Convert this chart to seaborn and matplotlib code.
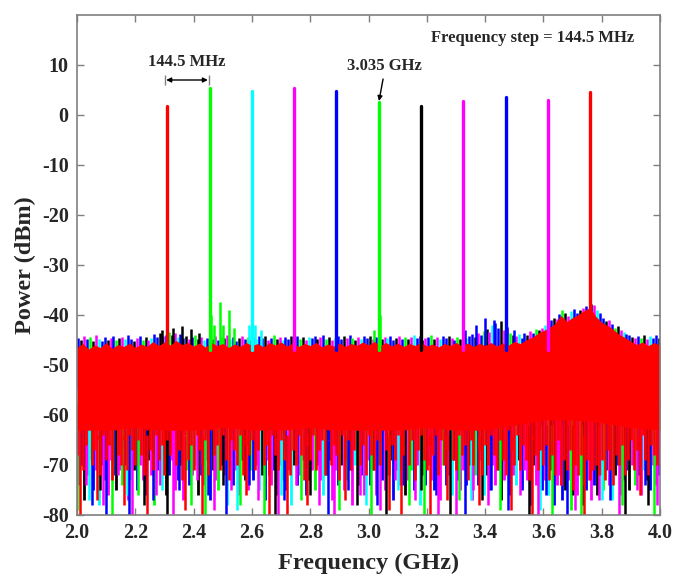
import numpy as np
import pandas as pd
import matplotlib
matplotlib.use("Agg")
import matplotlib.pyplot as plt
import seaborn as sns

# ---------------- data ----------------
peak_freq = [2.31, 2.455, 2.60, 2.745, 2.89, 3.035, 3.18, 3.325, 3.47, 3.615, 3.76]
peak_dbm = [1.8, 5.4, 4.8, 5.4, 4.8, 2.6, 1.8, 2.8, 3.6, 3.0, 4.6]
peak_color = ["#ff0000", "#00ff00", "#00ffff", "#ff00ff", "#0000ff", "#00ff00",
              "#000000", "#ff00ff", "#0000ff", "#ff00ff", "#ff0000"]

# top envelope of the red trace noise floor, 20 MHz grid 2.00..4.00 GHz
env_freq = np.linspace(2.0, 4.0, 101)
red_top = [-46.5, -45.7, -46.8, -46.0, -46.5, -45.5, -46.7, -45.9, -46.3, -45.6,
           -46.5, -45.8, -46.3, -45.3, -46.1, -45.4, -46.0, -45.1, -45.9, -45.5,
           -46.2, -45.6, -46.4, -45.5, -46.1, -45.7, -46.5, -45.8, -46.3, -45.5,
           -46.1, -45.7, -46.4, -45.5, -46.0, -45.4, -46.2, -45.6, -46.3, -45.7,
           -46.1, -45.5, -46.4, -45.8, -46.2, -45.6, -46.3, -45.7, -46.1, -45.4,
           -46.0, -45.3, -46.1, -45.5, -46.2, -45.6, -46.3, -45.7, -46.1, -45.5,
           -46.2, -45.8, -46.4, -45.7, -46.1, -45.5, -46.2, -45.6, -46.3, -45.7,
           -46.1, -45.5, -46.2, -45.6, -46.0, -45.3, -45.7, -45.0, -44.5, -43.7,
           -43.1, -42.5, -41.7, -40.1, -41.3, -40.5, -39.9, -39.1, -38.5, -40.3,
           -41.5, -42.1, -42.9, -43.9, -44.5, -45.3, -45.9, -45.4, -46.1, -45.5,
           -46.1]
# bottom of the solid part of the red floor, 100 MHz grid
solid_freq = np.linspace(2.0, 4.0, 21)
red_solid_bottom = [-63, -63, -62.5, -63, -63, -62.5, -63, -63, -62.5, -63, -63,
                    -63, -62.5, -63, -63, -62, -61, -61, -61.5, -62.5, -63]

# downward tips of the red trace, 10 MHz grid 2.00..4.00 GHz
spike_freq = np.linspace(2.0, 4.0, 201)
red_low = [-68, -64, -71, -66, -63, -70, -67, -65, -72, -64, -69, -66, -73, -63, -68, -70, -65, -71, -64, -67,
           -70, -65, -68, -72, -63, -67, -71, -64, -69, -66, -72, -65, -68, -63, -70, -67, -73, -64, -69, -66,
           -71, -64, -67, -70, -65, -72, -63, -68, -66, -71, -64, -69, -73, -65, -67, -70, -64, -72, -66, -68,
           -65, -71, -67, -63, -70, -66, -72, -64, -68, -71, -65, -69, -63, -72, -67, -70, -64, -68, -73, -66,
           -69, -64, -71, -67, -65, -72, -63, -70, -66, -68, -73, -64, -69, -65, -71, -67, -63, -70, -66, -72,
           -64, -68, -71, -65, -70, -63, -67, -72, -66, -69, -64, -71, -68, -63, -70, -65, -73, -67, -64, -69,
           -71, -66, -68, -64, -72, -65, -70, -67, -63, -69, -71, -64, -68, -66, -73, -65, -70, -63, -67, -72,
           -66, -70, -64, -68, -71, -65, -69, -72, -63, -67, -70, -64, -71, -66, -69, -73, -65, -68, -71, -67,
           -70, -66, -73, -68, -72, -65, -74, -69, -71, -67, -75, -70, -72, -68, -74, -69, -73, -71, -70, -72,
           -69, -73, -67, -71, -74, -68, -70, -66, -72, -69, -65, -71, -67, -70, -64, -69, -72, -66, -68, -70,
           -67]

# the other ten traces between the red samples (2.005..3.995 GHz, 10 MHz step)
mid_freq = np.linspace(2.005, 3.995, 200)
others_low = [-74, -70, -77, -72, -69, -75, -71, -78, -70, -73, -76, -69, -72, -75, -71, -74, -70, -77, -73, -71,
              -75, -70, -73, -76, -69, -72, -78, -71, -74, -70, -76, -72, -69, -75, -73, -70, -77, -71, -74, -72,
              -70, -76, -72, -74, -69, -77, -71, -73, -75, -70, -72, -78, -70, -74, -71, -76, -69, -73, -75, -71,
              -73, -70, -75, -72, -77, -69, -74, -71, -76, -70, -73, -75, -71, -78, -70, -74, -72, -69, -76, -73,
              -71, -75, -70, -73, -76, -72, -69, -77, -71, -74, -70, -75, -73, -71, -78, -70, -74, -72, -76, -69,
              -74, -71, -76, -70, -73, -75, -72, -69, -77, -71, -74, -70, -76, -73, -71, -75, -70, -78, -72, -74,
              -70, -73, -75, -71, -77, -70, -74, -72, -76, -69, -73, -75, -71, -74, -70, -77, -72, -74, -69, -76,
              -72, -75, -70, -74, -71, -77, -73, -70, -76, -72, -74, -69, -75, -71, -73, -78, -70, -74, -72, -75,
              -73, -76, -71, -78, -74, -72, -77, -75, -73, -79, -74, -76, -72, -78, -75, -73, -77, -74, -76, -72,
              -75, -71, -74, -77, -72, -70, -76, -73, -71, -75, -70, -74, -72, -76, -71, -73, -75, -70, -74, -72]
others_high = [-44.6, -45.0, -44.2, -44.8, -44.4, -45.2, -44.0, -44.7, -45.1, -44.3, -44.9, -44.5, -44.1, -45.0, -44.6, -44.3, -44.8, -44.0, -44.7, -45.2,
               -44.5, -44.1, -44.9, -44.3, -45.0, -44.6, -43.8, -44.4, -43.5, -44.2, -43.9, -43.4, -44.0, -43.6, -44.3, -43.8, -44.6, -44.1, -44.8, -44.4,
               -44.0, -44.7, -44.3, -45.0, -44.5, -44.1, -44.8, -44.2, -44.9, -44.4, -44.6, -44.0, -44.7, -44.3, -45.1, -44.5, -44.2, -44.8, -44.4, -44.9,
               -44.3, -44.8, -44.1, -44.6, -44.2, -44.9, -44.5, -44.0, -44.7, -44.3, -45.0, -44.4, -44.8, -44.2, -44.6, -44.1, -44.7, -44.4, -44.9, -44.3,
               -44.6, -44.2, -44.8, -44.4, -44.0, -44.7, -44.3, -45.0, -44.5, -44.1, -44.8, -44.2, -44.6, -44.0, -44.5, -44.9, -44.3, -44.7, -44.1, -44.6,
               -44.2, -44.7, -44.4, -44.0, -44.8, -44.3, -44.6, -44.1, -44.9, -44.5, -44.2, -44.7, -44.3, -44.8, -44.4, -44.0, -44.6, -44.2, -44.9, -44.5,
               -44.4, -44.0, -44.7, -44.3, -44.8, -44.2, -44.6, -44.1, -44.5, -44.9, -44.3, -44.7, -44.0, -44.6, -44.2, -43.8, -44.4, -43.5, -44.0, -43.2,
               -42.8, -43.4, -42.0, -41.5, -42.6, -41.2, -43.0, -42.4, -43.6, -44.0, -44.2, -43.8, -44.5, -43.5, -44.0, -43.2, -43.6, -42.8, -43.0, -42.5,
               -42.0, -41.8, -41.0, -40.5, -40.8, -39.8, -39.0, -39.5, -40.2, -39.2, -38.8, -39.6, -39.0, -38.6, -38.2, -38.8, -37.8, -38.0, -39.0, -39.5,
               -40.5, -41.2, -41.0, -41.8, -42.5, -42.2, -43.0, -43.4, -43.8, -44.0, -44.3, -44.6, -44.1, -44.5, -44.0, -44.7, -44.2, -44.5, -44.0, -44.6]

# deepest downward noise spikes of each trace colour
red_spk_f = [2.01, 2.07, 2.16, 2.24, 2.37, 2.43, 2.58, 2.66, 2.72, 2.79,
             2.92, 3.07, 3.11, 3.21, 3.27, 3.38, 3.49, 3.56, 3.74, 3.93]
red_spk_db = [-80, -77, -78, -80, -79, -80, -76, -80, -80, -78,
              -77, -79, -80, -80, -77, -78, -79, -80, -80, -76]
mag_spk_f = [2.03, 2.09, 2.14, 2.19, 2.27, 2.33, 2.41, 2.47, 2.53, 2.62,
             2.69, 2.75, 2.83, 2.88, 2.97, 3.04, 3.09, 3.16, 3.24, 3.30,
             3.36, 3.41, 3.52, 3.58, 3.66, 3.71, 3.79, 3.86, 3.92, 3.99]
mag_spk_db = [-74, -78, -72, -80, -76, -80, -73, -79, -75, -77,
              -80, -74, -78, -80, -76, -79, -73, -77, -80, -80,
              -75, -78, -76, -80, -74, -79, -77, -80, -75, -78]
blu_spk_f = [2.05, 2.10, 2.18, 2.26, 2.35, 2.45, 2.51, 2.59, 2.71, 2.86,
             2.93, 3.03, 3.12, 3.23, 3.33, 3.42, 3.48, 3.61, 3.68, 3.83, 3.95]
blu_spk_db = [-78, -80, -80, -77, -75, -76, -80, -74, -77, -80,
              -75, -78, -74, -76, -80, -75, -79, -76, -80, -77, -74]
grn_spk_f = [2.00, 2.12, 2.21, 2.39, 2.44, 2.56, 2.64, 2.77, 2.90, 3.01,
             3.14, 3.19, 3.31, 3.45, 3.63, 3.73, 3.87, 3.98]
grn_spk_db = [-79, -80, -76, -78, -80, -78, -80, -77, -79, -80,
              -78, -80, -77, -79, -80, -80, -78, -80]
blk_spk_f = [2.08, 2.23, 2.31, 2.50, 2.68, 2.80, 2.96, 3.06, 3.18, 3.28,
             3.39, 3.55, 3.70, 3.88, 3.96]
blk_spk_db = [-75, -78, -80, -74, -80, -76, -78, -80, -75, -80,
              -77, -80, -76, -80, -78]
cyn_spk_f = [2.04, 2.17, 2.29, 2.55, 2.70, 2.99, 3.10, 3.35, 3.59, 3.80]
cyn_spk_db = [-77, -76, -75, -79, -76, -78, -75, -77, -79, -77]

# upward noise tips standing out above the floor
blk_up_f = [2.29, 2.33, 2.36, 2.39, 2.42]
blk_up_db = [-43.0, -42.5, -42.2, -42.8, -43.5]
blu_up_f = [3.33, 3.37, 3.40, 3.43, 3.50]
blu_up_db = [-43.0, -42.0, -40.5, -41.0, -43.0]
grn_up_f = [2.46, 2.47, 2.49, 2.50, 2.52, 2.54, 3.02, 3.04]
grn_up_db = [-40.0, -42.0, -37.3, -42.0, -39.0, -42.5, -43.0, -40.0]
cyn_up_f = [2.59, 2.61, 2.63]
cyn_up_db = [-42.0, -42.0, -43.0]

x_ticks = [2.0, 2.2, 2.4, 2.6, 2.8, 3.0, 3.2, 3.4, 3.6, 3.8, 4.0]
y_ticks = [-80, -70, -60, -50, -40, -30, -20, -10, 0, 10]

# ---------------- style ----------------
sns.set_theme(style="ticks")
plt.rcParams["font.family"] = ["Liberation Serif", "DejaVu Serif"]
plt.rcParams["font.weight"] = "bold"

fig = plt.figure(figsize=(6.76, 5.76), dpi=100)
ax = fig.add_axes([77 / 676, 1 - 515 / 576, 583 / 676, 500 / 576])

RED, GRN, CYN, MAG, BLU, BLK = "#ff0000", "#00ff00", "#00ffff", "#ff00ff", "#0000ff", "#000000"
low_cycle = [MAG, BLU, BLK, MAG, GRN, BLU, MAG, CYN, BLK, BLU, MAG]
high_cycle = [BLU, BLK, MAG, BLU, GRN, BLK, MAG, CYN, BLU]
low_cols = [low_cycle[i % len(low_cycle)] for i in range(len(mid_freq))]
high_cols = [high_cycle[i % len(high_cycle)] for i in range(len(mid_freq))]

# the other traces (behind the red one)
ax.vlines(mid_freq, -55, others_high, colors=high_cols, lw=1.8, zorder=2)
ax.vlines(mid_freq, -60, others_low, colors=low_cols, lw=2.0, zorder=2)
for f, d, c in [(cyn_spk_f, cyn_spk_db, CYN), (grn_spk_f, grn_spk_db, GRN),
                (blk_spk_f, blk_spk_db, BLK), (blu_spk_f, blu_spk_db, BLU),
                (mag_spk_f, mag_spk_db, MAG)]:
    ax.vlines(f, -62, d, colors=c, lw=1.8, zorder=2.2)
for f, d, c in [(blu_up_f, blu_up_db, BLU), (blk_up_f, blk_up_db, BLK),
                (grn_up_f, grn_up_db, GRN), (cyn_up_f, cyn_up_db, CYN)]:
    ax.vlines(f, -50, d, colors=c, lw=1.8, zorder=2.2)

# red noise floor
ax.fill_between(env_freq, -58, red_top, color=RED, lw=0, zorder=3)
ax.fill_between(solid_freq, red_solid_bottom, -57, color=RED, lw=0, zorder=3)
ax.vlines(spike_freq, -58, red_low, colors=RED, lw=1.9, zorder=3)
ax.vlines(red_spk_f, -64, red_spk_db, colors=RED, lw=1.8, zorder=3)

# carrier peaks
rows = []
for i, (f, p) in enumerate(zip(peak_freq, peak_dbm)):
    rows.append({"freq": f, "dbm": -47.0, "trace": i})
    rows.append({"freq": f, "dbm": p, "trace": i})
df = pd.DataFrame(rows)
sns.lineplot(data=df, x="freq", y="dbm", hue="trace", palette=peak_color,
             estimator=None, sort=False, legend=False, lw=2.4, ax=ax, zorder=4)

# ---------------- axes ----------------
ax.set_xlim(2.0, 4.0)
ax.set_ylim(-80, 20)
ax.set_xticks(x_ticks)
ax.set_xticklabels([f"{t:.1f}" for t in x_ticks])
ax.set_yticks(y_ticks)
ax.set_yticklabels([str(t) for t in y_ticks])
ax.tick_params(direction="in", length=5, width=1, color="#7f7f7f",
               top=True, right=True, labelsize=14.5, pad=6)
for lab in ax.get_xticklabels() + ax.get_yticklabels():
    lab.set_fontweight("bold")
for s in ax.spines.values():
    s.set_color("#7f7f7f")
    s.set_linewidth(1.2)
    s.set_zorder(6)

ax.set_xlabel("Frequency (GHz)", fontsize=17.5, fontweight="bold", labelpad=7)
ax.set_ylabel("Power (dBm)", fontsize=17.5, fontweight="bold", labelpad=4)

# ---------------- annotations ----------------
ax.text(2.377, 10.5, "144.5 MHz", ha="center", va="center", fontsize=12, fontweight="bold")
ax.annotate("", xy=(2.449, 7.0), xytext=(2.306, 7.0),
            arrowprops=dict(arrowstyle="<|-|>", color="black", lw=1.0,
                            mutation_scale=7, shrinkA=0, shrinkB=0))
ax.vlines([2.302, 2.453], 6.0, 8.0, colors="#7f7f7f", lw=1.0)
ax.text(3.056, 9.7, "3.035 GHz", ha="center", va="center", fontsize=12, fontweight="bold")
ax.annotate("", xy=(3.036, 2.8), xytext=(3.050, 7.2),
            arrowprops=dict(arrowstyle="-|>", color="black", lw=1.0,
                            mutation_scale=7, shrinkA=0, shrinkB=0))
ax.text(3.563, 15.4, "Frequency step = 144.5 MHz", ha="center", va="center",
        fontsize=12, fontweight="bold")

fig.savefig("out.png", dpi=100)
